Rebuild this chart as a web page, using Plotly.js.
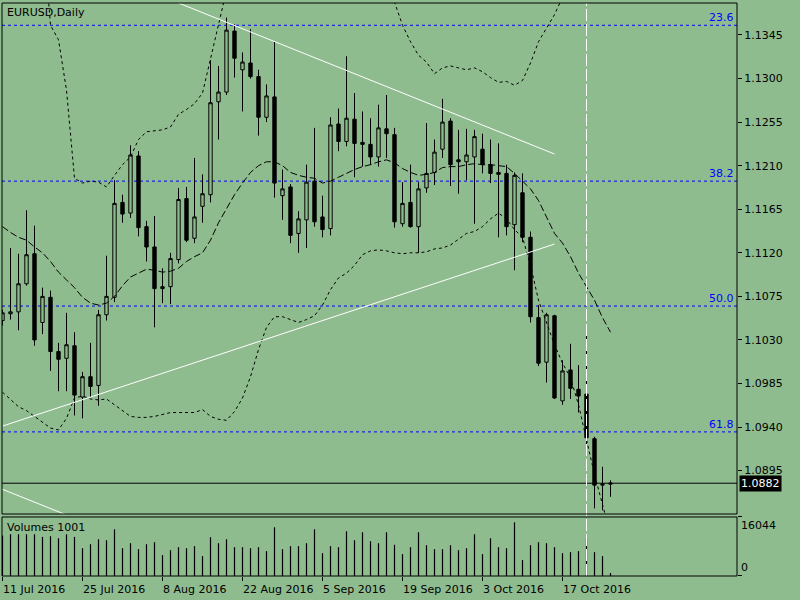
<!DOCTYPE html>
<html><head><meta charset="utf-8">
<script src="https://cdn.plot.ly/plotly-3.0.1.min.js"></script>
<style>html,body{margin:0;padding:0;background:#8FBC8F;}#chart{width:800px;height:600px;}</style>
</head><body><div id="chart"></div>
<script>
// ---- data ----
const symbolTitle = "EURUSD,Daily";
const volumeTitle = "Volumes 1001";
const dateLabels = ["11 Jul 2016","25 Jul 2016","8 Aug 2016","22 Aug 2016","5 Sep 2016","19 Sep 2016","3 Oct 2016","17 Oct 2016"];
const dateTickIdx = [0,10,20,30,40,50,60,70];
const priceTicks = [1.0895,1.0940,1.0985,1.1030,1.1075,1.1120,1.1165,1.1210,1.1255,1.1300,1.1345];
const volumeTicks = [0,16044];

const openP  = [1.1050,1.1057,1.1059,1.1088,1.1119,1.1048,1.1074,1.1018,1.1011,1.1024,
                1.0971,1.0992,1.0983,1.1056,1.1074,1.1172,1.1161,1.1220,1.1147,1.1126,
                1.1083,1.1085,1.1113,1.1176,1.1135,1.1168,1.1180,1.1276,1.1286,1.1349,
                1.1309,1.1316,1.1302,1.1260,1.1281,1.1179,1.1188,1.1140,1.1154,1.1194,
                1.1157,1.1145,1.1253,1.1235,1.1258,1.1234,1.1232,1.1219,1.1248,1.1242,
                1.1150,1.1172,1.1147,1.1187,1.1203,1.1227,1.1256,1.1216,1.1214,1.1219,
                1.1227,1.1211,1.1203,1.1202,1.1149,1.1182,1.1136,1.1053,1.1007,1.1055,
                1.0967,1.0999,1.0979,1.0974,1.0928,1.0880,1.0881];
const highP  = [1.1061,1.1125,1.1119,1.1164,1.1148,1.1084,1.1081,1.1027,1.1058,1.1038,
                1.0997,1.1027,1.1061,1.1117,1.1195,1.1180,1.1231,1.1225,1.1153,1.1158,
                1.1104,1.1120,1.1187,1.1188,1.1218,1.1201,1.1319,1.1313,1.1363,1.1356,
                1.1327,1.1351,1.1309,1.1294,1.1338,1.1206,1.1191,1.1163,1.1211,1.1249,
                1.1179,1.1260,1.1269,1.1323,1.1285,1.1266,1.1259,1.1273,1.1283,1.1249,
                1.1193,1.1211,1.1193,1.1254,1.1237,1.1279,1.1259,1.1247,1.1248,1.1247,
                1.1243,1.1237,1.1233,1.1211,1.1203,1.1202,1.1142,1.1066,1.1058,1.1056,
                1.1009,1.1026,1.1004,1.1038,1.0930,1.0899,1.0885];
const lowP   = [1.1045,1.1051,1.1040,1.1086,1.1024,1.1036,1.0998,1.0977,1.0977,1.0952,
                1.0949,1.0971,1.0962,1.1050,1.1069,1.1151,1.1156,1.1137,1.1111,1.1043,
                1.1068,1.1067,1.1109,1.1131,1.1130,1.1151,1.1172,1.1237,1.1283,1.1301,
                1.1266,1.1300,1.1241,1.1255,1.1177,1.1154,1.1130,1.1120,1.1125,1.1147,
                1.1136,1.1138,1.1225,1.1230,1.1198,1.1209,1.1211,1.1209,1.1218,1.1146,
                1.1147,1.1146,1.1120,1.1182,1.1190,1.1218,1.1189,1.1181,1.1195,1.1150,
                1.1202,1.1192,1.1136,1.1138,1.1102,1.1131,1.1048,1.1003,1.0986,1.0969,
                1.0963,1.0969,1.0955,1.0916,1.0856,1.0854,1.0868];
const closeP = [1.1058,1.1059,1.1088,1.1118,1.1030,1.1075,1.1018,1.1010,1.1025,1.0973,
                1.0992,1.0982,1.1056,1.1075,1.1171,1.1160,1.1221,1.1146,1.1126,1.1083,
                1.1085,1.1114,1.1175,1.1133,1.1157,1.1181,1.1275,1.1286,1.1350,1.1321,
                1.1317,1.1302,1.1260,1.1282,1.1192,1.1186,1.1138,1.1155,1.1193,1.1152,
                1.1144,1.1252,1.1235,1.1259,1.1233,1.1232,1.1219,1.1249,1.1243,1.1152,
                1.1171,1.1147,1.1186,1.1202,1.1224,1.1255,1.1211,1.1214,1.1221,1.1240,
                1.1211,1.1202,1.1201,1.1147,1.1200,1.1136,1.1054,1.1006,1.1056,1.0970,
                1.0998,1.0980,1.0972,1.0929,1.0880,1.0881,1.0882];
const volumes = [11000,11357,11357,11357,11357,10636,10816,10275,11357,10636,
                 7571,8652,10005,9734,12708,7571,8923,7301,8652,9193,
                 5678,7030,7841,7571,8112,5408,10545,8923,10005,7841,
                 7841,7571,7841,6760,13249,7301,8112,8112,8923,12708,
                 6219,8112,7841,12168,9734,11897,9464,8923,11897,8500,
                 5949,7841,11897,8382,7301,7301,8382,7030,7571,11357,
                 5949,10275,7841,7571,14601,4326,8382,9193,8923,7841,
                 6219,6489,6760,10275,6489,5408,811];
const bandUpper = [1.1484,1.1479,1.1474,1.1469,1.1464,1.1459,1.1355,1.1340,1.1288,1.1197,
                   1.1192,1.1194,1.1193,1.1188,1.1200,1.1211,1.1219,1.1237,1.1245,1.1246,
                   1.1247,1.1250,1.1263,1.1268,1.1274,1.1285,1.1321,1.1355,1.1391,1.1410,
                   1.1420,1.1425,1.1428,1.1428,1.1427,1.1425,1.1422,1.1418,1.1414,1.1410,
                   1.1406,1.1402,1.1398,1.1395,1.1392,1.1390,1.1387,1.1384,1.1381,1.1379,
                   1.1355,1.1338,1.1324,1.1317,1.1305,1.1311,1.1313,1.1311,1.1309,1.1311,
                   1.1307,1.1301,1.1296,1.1297,1.1293,1.1298,1.1316,1.1338,1.1352,1.1366,
                   1.1384,1.1400,1.1415,1.1430,1.1445,1.1460,1.1470];
const bandMiddle = [1.1147,1.1141,1.1136,1.1133,1.1126,1.1120,1.1111,1.1100,1.1092,1.1084,
                    1.1074,1.1068,1.1066,1.1068,1.1075,1.1086,1.1095,1.1099,1.1103,1.1102,
                    1.1100,1.1101,1.1104,1.1111,1.1116,1.1120,1.1133,1.1151,1.1166,1.1180,
                    1.1192,1.1203,1.1210,1.1214,1.1214,1.1210,1.1203,1.1200,1.1198,1.1197,
                    1.1192,1.1194,1.1198,1.1202,1.1206,1.1209,1.1211,1.1214,1.1216,1.1213,
                    1.1207,1.1203,1.1200,1.1201,1.1203,1.1208,1.1209,1.1209,1.1211,1.1212,
                    1.1211,1.1211,1.1210,1.1209,1.1202,1.1194,1.1186,1.1174,1.1157,1.1140,
                    1.1130,1.1116,1.1099,1.1085,1.1071,1.1053,1.1038];
const bandLower = [1.0976,1.0968,1.0961,1.0957,1.0951,1.0945,1.0939,1.0937,1.0949,1.0970,
                   1.0972,1.0969,1.0968,1.0969,1.0963,1.0957,1.0951,1.0950,1.0950,1.0951,
                   1.0953,1.0955,1.0955,1.0955,1.0955,1.0958,1.0951,1.0948,1.0947,1.0956,
                   1.0970,1.0992,1.1020,1.1043,1.1054,1.1054,1.1051,1.1048,1.1051,1.1055,
                   1.1066,1.1082,1.1094,1.1099,1.1107,1.1118,1.1122,1.1123,1.1122,1.1120,
                   1.1119,1.1120,1.1120,1.1121,1.1124,1.1125,1.1128,1.1134,1.1140,1.1142,
                   1.1147,1.1155,1.1161,1.1155,1.1144,1.1136,1.1107,1.1071,1.1049,1.1025,
                   1.1006,1.0991,1.0963,1.0927,1.0891,1.0860,1.0829];
const fibLevels = [1.1355,1.1194,1.1065,1.0935];
const fibLabels = ["23.6","38.2","50.0","61.8"];
const trendUpperIdx = [22,69],  trendUpperPrice = [1.1378,1.1222];
const trendLowerIdx = [0,69],   trendLowerPrice = [1.0941,1.1129];
const channelIdx = [-1,12],     channelPrice = [1.0879,1.0836];
const separatorIdx = 73;

// ---- chart ----
const BG = '#8FBC8F';
const FONT = {family:'DejaVu Sans', size:11, color:'#000'};
const barIndex = openP.map((_, i) => i);
const lastClose = closeP[closeP.length - 1];
const mainBottom = 0.1082, volTop = 0.10297;

const traces = [
  {type:'candlestick', x:barIndex, open:openP, high:highP, low:lowP, close:closeP,
   xaxis:'x', yaxis:'y', whiskerwidth:0, hoverinfo:'skip',
   increasing:{line:{color:'#000', width:1}, fillcolor:BG},
   decreasing:{line:{color:'#000', width:1}, fillcolor:'#000'}},
  {type:'scatter', mode:'lines', x:barIndex, y:bandUpper, xaxis:'x', yaxis:'y',
   line:{color:'#000', width:1, dash:'3px,3px'}, hoverinfo:'skip'},
  {type:'scatter', mode:'lines', x:barIndex, y:bandLower, xaxis:'x', yaxis:'y',
   line:{color:'#000', width:1, dash:'3px,3px'}, hoverinfo:'skip'},
  {type:'scatter', mode:'lines', x:barIndex, y:bandMiddle, xaxis:'x', yaxis:'y',
   line:{color:'#000', width:1, dash:'7px,3px'}, hoverinfo:'skip'},
  {type:'scatter', mode:'lines', x:trendUpperIdx, y:trendUpperPrice, xaxis:'x', yaxis:'y',
   line:{color:'#fff', width:1}, hoverinfo:'skip'},
  {type:'scatter', mode:'lines', x:trendLowerIdx, y:trendLowerPrice, xaxis:'x', yaxis:'y',
   line:{color:'#fff', width:1}, hoverinfo:'skip'},
  {type:'scatter', mode:'lines', x:channelIdx, y:channelPrice, xaxis:'x', yaxis:'y',
   line:{color:'#fff', width:1}, hoverinfo:'skip'},
  {type:'bar', x:barIndex, y:volumes, xaxis:'x', yaxis:'y2', width:0.15,
   marker:{color:'#000', line:{width:0}}, hoverinfo:'skip'}
];

const shapes = [];
fibLevels.forEach(v => shapes.push({type:'line', xref:'paper', x0:0, x1:1, yref:'y', y0:v, y1:v,
  line:{color:'#0000FF', width:1, dash:'3px,3px'}, layer:'below'}));
shapes.push({type:'line', xref:'paper', x0:0, x1:1, yref:'y', y0:lastClose, y1:lastClose,
  line:{color:'#000', width:1}});
shapes.push({type:'line', xref:'x', x0:separatorIdx, x1:separatorIdx, yref:'paper', y0:0, y1:1,
  line:{color:'#fff', width:1, dash:'12px,3px'}});
shapes.push({type:'rect', xref:'paper', x0:0, x1:1, yref:'paper', y0:mainBottom, y1:1,
  line:{color:'#000', width:1}, fillcolor:'rgba(0,0,0,0)'});
shapes.push({type:'rect', xref:'paper', x0:0, x1:1, yref:'paper', y0:0, y1:volTop,
  line:{color:'#000', width:1}, fillcolor:'rgba(0,0,0,0)'});

const annotations = [];
annotations.push({xref:'paper', x:0, xanchor:'left', xshift:3, yref:'paper', y:1, yanchor:'top', yshift:-1,
  text:symbolTitle, showarrow:false, font:FONT});
annotations.push({xref:'paper', x:0, xanchor:'left', xshift:3, yref:'paper', y:volTop, yanchor:'top', yshift:-2,
  text:volumeTitle, showarrow:false, font:FONT});
fibLevels.forEach((v, k) => annotations.push({xref:'paper', x:1, xanchor:'right', xshift:-1,
  yref:'y', y:v, yanchor:'bottom', yshift:-1, text:fibLabels[k], showarrow:false,
  font:{family:'DejaVu Sans', size:11, color:'#0000FF'}}));
dateTickIdx.forEach((d, k) => annotations.push({xref:'x', x:d, xanchor:'left', xshift:-2,
  yref:'paper', y:0, yanchor:'top', yshift:-5, text:dateLabels[k], showarrow:false, font:FONT}));
annotations.push({xref:'paper', x:1, xanchor:'left', xshift:2, yref:'y', y:lastClose, yanchor:'middle',
  text:lastClose.toFixed(4), showarrow:false, bgcolor:'#000', borderpad:1,
  font:{family:'DejaVu Sans', size:11, color:'#fff'}});
annotations.push({xref:'paper', x:1, xanchor:'left', xshift:2, yref:'y2', y:volumeTicks[1], yanchor:'top',
  text:String(volumeTicks[1]), showarrow:false, font:FONT});
annotations.push({xref:'paper', x:1, xanchor:'left', xshift:2, yref:'y2', y:volumeTicks[0], yanchor:'bottom',
  text:String(volumeTicks[0]), showarrow:false, font:FONT});

const layout = {
  width:800, height:600,
  margin:{l:2, r:63, t:3, b:24, pad:0},
  paper_bgcolor:BG, plot_bgcolor:BG,
  showlegend:false, hovermode:false, dragmode:false,
  boxgap:0.4,
  font:FONT,
  xaxis:{anchor:'y2', range:[-0.0625, 91.8125], type:'linear',
    tickmode:'array', tickvals:dateTickIdx, ticks:'outside', ticklen:4, tickcolor:'#000', tickwidth:1,
    showticklabels:false, showgrid:false, zeroline:false, showline:false,
    rangeslider:{visible:false}, fixedrange:true},
  yaxis:{domain:[mainBottom,1], anchor:'x', side:'right', range:[1.08502, 1.13780],
    tickmode:'array', tickvals:priceTicks, ticktext:priceTicks.map(v => v.toFixed(4)),
    ticks:'outside', ticklen:4, tickcolor:'#000', tickwidth:1, tickfont:FONT,
    showgrid:false, zeroline:false, showline:false, fixedrange:true},
  yaxis2:{domain:[0,volTop], anchor:'x', side:'right', range:[0, volumeTicks[1]],
    tickmode:'array', tickvals:volumeTicks, ticks:'outside', ticklen:4, tickcolor:'#000', tickwidth:1,
    showticklabels:false, showgrid:false, zeroline:false, showline:false, fixedrange:true},
  shapes:shapes, annotations:annotations
};

Plotly.newPlot('chart', traces, layout, {staticPlot:true, displayModeBar:false});
</script></body></html>
